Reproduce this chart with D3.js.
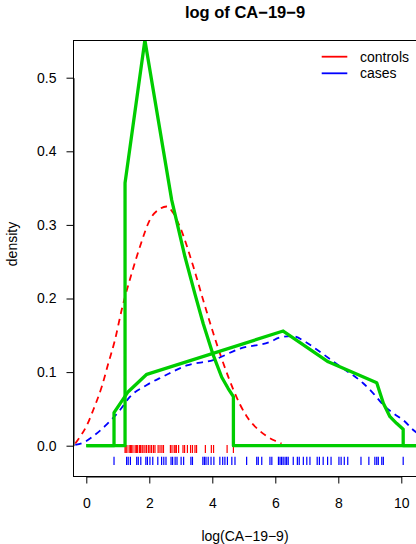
<!DOCTYPE html>
<html>
<head>
<meta charset="utf-8">
<script src="https://cdn.jsdelivr.net/npm/d3@7"></script>
<style>
  html, body { margin: 0; padding: 0; background: #fff; }
  svg { display: block; font-family: "Liberation Sans", Arial, Helvetica, sans-serif; }
</style>
</head>
<body>
<svg id="chart" width="416" height="544"></svg>
<script>
// Observed log(CA-19-9) values
const controlsRug = [1.23, 1.26, 1.29, 1.36, 1.40, 1.43, 1.48, 1.55, 1.59, 1.63, 1.69, 1.72, 1.77, 1.80,
  1.86, 1.91, 1.97, 2.02, 2.07, 2.13, 2.18, 2.28, 2.34, 2.40, 2.45, 2.67, 2.72, 2.79, 2.82, 2.86, 2.93,
  3.07, 3.12, 3.21, 3.31, 3.37, 3.45, 3.50, 3.78, 3.97, 4.04, 4.47, 4.67];
const casesRug = [0.88, 1.28, 1.33, 1.40, 1.60, 1.65, 1.73, 1.89, 1.94, 2.02, 2.11, 2.27, 2.39, 2.46, 2.53,
  2.69, 2.74, 2.82, 2.88, 3.01, 3.09, 3.32, 3.37, 3.70, 3.75, 3.80, 3.87, 3.96, 4.05, 4.24, 4.33, 4.40,
  4.48, 4.62, 4.72, 5.09, 5.41, 5.46, 5.57, 5.83, 5.89, 6.10, 6.15, 6.20, 6.25, 6.31, 6.36, 6.41, 6.57,
  6.70, 6.76, 6.89, 7.00, 7.10, 7.33, 7.40, 7.52, 7.66, 7.77, 8.02, 8.09, 8.19, 8.30, 8.72, 8.97, 9.16,
  9.22, 9.27, 9.38, 9.43, 10.06];

// Kernel density estimates (dashed)
const controlsKdeX = [-0.35, -0.2, 0.01, 0.22, 0.49, 0.70, 0.91, 1.12, 1.44, 1.70, 2.02, 2.34, 2.55, 2.76,
  2.97, 3.40, 3.71, 4.03, 4.35, 4.67, 4.88, 5.09, 5.51, 5.94, 6.2];
const controlsKdeY = [0.003, 0.012, 0.027, 0.0485, 0.080, 0.112, 0.1436, 0.184, 0.234, 0.270, 0.307, 0.322,
  0.325, 0.316, 0.2976, 0.243, 0.198, 0.153, 0.112, 0.076, 0.056, 0.040, 0.020, 0.0077, 0.003];
const casesKdeX = [-0.35, -0.1, 0.22, 0.45, 0.65, 1.07, 1.39, 1.92, 2.44, 3.19, 4.03, 4.88, 5.83, 6.15,
  6.52, 7.00, 7.37, 8.05, 8.79, 9.11, 9.48, 9.75, 10.12, 10.38, 10.7];
const casesKdeY = [0.001, 0.004, 0.013, 0.021, 0.029, 0.0485, 0.0666, 0.0825, 0.094, 0.109, 0.1164, 0.132,
  0.141, 0.147, 0.149, 0.140, 0.129, 0.108, 0.0848, 0.0712, 0.053, 0.044, 0.0326, 0.0213, 0.012];

// Log-concave density estimates (solid)
const controlsLogconX = [0, 1.23, 1.23, 1.86, 2.71, 3.13, 3.45, 3.71, 4.03, 4.30, 4.50, 4.67, 4.67, 10.8];
const controlsLogconY = [0, 0, 0.357, 0.551, 0.334, 0.257, 0.206, 0.166, 0.123, 0.093, 0.078, 0.0666, 0, 0];
const casesLogconX = [0, 0.88, 0.88, 1.33, 1.92, 6.25, 7.68, 9.22, 9.43, 9.64, 9.85, 10.06, 10.06, 10.8];
const casesLogconY = [0, 0, 0.045, 0.0734, 0.097, 0.1558, 0.114, 0.0856, 0.0576, 0.0394, 0.0304, 0.0223, 0, 0];

const xTicks = [0, 2, 4, 6, 8, 10];
const yTicks = [0.0, 0.1, 0.2, 0.3, 0.4, 0.5];
const legendLabels = ["controls", "cases"];
const legendColors = ["#ff0000", "#0000ff"];

const svg = d3.select("#chart");
const plot = { left: 73, top: 40, right: 417, bottom: 476 };

const x = d3.scaleLinear().domain([0, 10]).range([86.3, 401.3]);
const y = d3.scaleLinear().domain([0, 0.5]).range([445.7, 77.7]);

svg.append("defs").append("clipPath").attr("id", "plotclip")
  .append("rect")
  .attr("x", plot.left).attr("y", plot.top)
  .attr("width", plot.right - plot.left).attr("height", plot.bottom - plot.top);

const g = svg.append("g").attr("clip-path", "url(#plotclip)");

const zip = (xs, ys) => xs.map((v, i) => [v, ys[i]]);
const smooth = d3.line().x(d => x(d[0])).y(d => y(d[1])).curve(d3.curveMonotoneX);
const poly = d3.line().x(d => x(d[0])).y(d => y(d[1]));

// Rugs
const y0 = y(0);
g.selectAll("line.rugc").data(controlsRug).join("line")
  .attr("x1", d => x(d)).attr("x2", d => x(d))
  .attr("y1", y0 - 0.7).attr("y2", y0 + 7.3)
  .attr("stroke", "#ff0000").attr("stroke-width", 1.2);
g.selectAll("line.rugk").data(casesRug).join("line")
  .attr("x1", d => x(d)).attr("x2", d => x(d))
  .attr("y1", y0 + 11).attr("y2", y0 + 19.3)
  .attr("stroke", "#0000ff").attr("stroke-width", 1.2);

// Kernel densities
g.append("path").datum(zip(controlsKdeX, controlsKdeY))
  .attr("d", smooth).attr("fill", "none")
  .attr("stroke", "#ff0000").attr("stroke-width", 1.8).attr("stroke-dasharray", "6.5,5");
g.append("path").datum(zip(casesKdeX, casesKdeY))
  .attr("d", smooth).attr("fill", "none")
  .attr("stroke", "#0000ff").attr("stroke-width", 1.8).attr("stroke-dasharray", "6.5,5");

// Log-concave estimates
[zip(controlsLogconX, controlsLogconY), zip(casesLogconX, casesLogconY)].forEach(pts => {
  g.append("path").datum(pts)
    .attr("d", poly).attr("fill", "none")
    .attr("stroke", "#00cd00").attr("stroke-width", 3.3)
    .attr("stroke-linejoin", "round");
});

// Frame
svg.append("rect")
  .attr("x", plot.left + 0.5).attr("y", plot.top + 0.5)
  .attr("width", plot.right - plot.left).attr("height", plot.bottom - plot.top)
  .attr("fill", "none").attr("stroke", "#000").attr("stroke-width", 1);

// Axes
const yAxis = d3.axisLeft(y).tickValues(yTicks).tickFormat(d3.format(".1f"))
  .tickSize(7).tickSizeOuter(0).tickPadding(10);
const ya = svg.append("g").attr("transform", `translate(${plot.left + 0.5},0)`).call(yAxis);
ya.selectAll("text").attr("font-size", 14).attr("fill", "#000")
  .attr("font-family", "Liberation Sans, Arial, sans-serif");
ya.selectAll("line, path").attr("stroke", "#000");

const xAxis = d3.axisBottom(x).tickValues(xTicks).tickFormat(d3.format("d"))
  .tickSize(7).tickSizeOuter(0).tickPadding(15);
const xa = svg.append("g").attr("transform", `translate(0,${plot.bottom + 0.5})`).call(xAxis);
xa.selectAll("text").attr("font-size", 14).attr("fill", "#000")
  .attr("font-family", "Liberation Sans, Arial, sans-serif");
xa.selectAll("line, path").attr("stroke", "#000");

// Titles
svg.append("text").attr("x", 245).attr("y", 18).attr("text-anchor", "middle")
  .attr("font-size", 16.5).attr("font-weight", "bold").text("log of CA\u221219\u22129");
svg.append("text").attr("x", 245).attr("y", 541).attr("text-anchor", "middle")
  .attr("font-size", 14).text("log(CA\u221219\u22129)");
svg.append("text").attr("transform", "translate(17,244) rotate(-90)")
  .attr("text-anchor", "middle").attr("font-size", 14).text("density");

// Legend
const leg = svg.append("g");
legendLabels.forEach((lab, i) => {
  const ly = 56.7 + i * 16.6;
  leg.append("line").attr("x1", 321.7).attr("x2", 347.3).attr("y1", ly).attr("y2", ly)
    .attr("stroke", legendColors[i]).attr("stroke-width", 1.8);
  leg.append("text").attr("x", 360).attr("y", ly + 5).attr("font-size", 14).text(lab);
});
</script>
</body>
</html>
